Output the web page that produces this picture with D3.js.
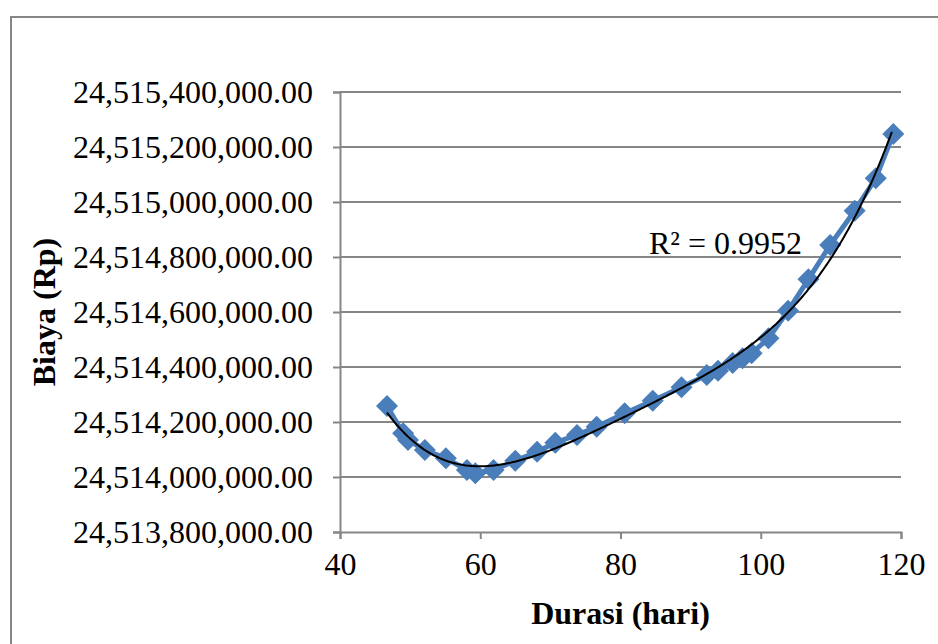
<!DOCTYPE html>
<html>
<head>
<meta charset="utf-8">
<script src="https://cdn.jsdelivr.net/npm/d3@7"></script>
<style>
  body { margin: 0; background: #fff; }
  text { font-family: "Liberation Serif", "Times New Roman", serif; fill: #000; }
</style>
</head>
<body>
<svg width="938" height="644"></svg>
<script>
// Durasi (hari) vs Biaya (Rp)
const durasi = [46.7, 49.0, 49.7, 52.1, 55.1, 58.1, 59.3, 61.9, 65.0, 68.1, 70.7, 73.8,
  76.6, 80.6, 84.6, 88.7, 92.3, 93.9, 96.0, 97.4, 98.7, 101.1, 103.9, 106.8, 109.9,
  113.4, 116.4, 118.9];
const biaya = [24514258200, 24514158900, 24514134500, 24514098200, 24514068000,
  24514025500, 24514013500, 24514025500, 24514059300, 24514092000, 24514124700,
  24514152700, 24514182900, 24514231600, 24514277500, 24514326200, 24514370900,
  24514386500, 24514414500, 24514432000, 24514449800, 24514504400, 24514604700,
  24514718900, 24514843600, 24514968400, 24515086200, 24515247300];
const xTicks = [40, 60, 80, 100, 120];
const yTicks = d3.range(24513800000, 24515400001, 200000);
const r2Label = "R² = 0.9952";

const svg = d3.select("svg");
const margin = { left: 340, right: 37, top: 92, bottom: 112 };
const width = 938, height = 644;
const fs = 32;

const x = d3.scaleLinear().domain([40, 120]).range([margin.left, width - margin.right]);
const y = d3.scaleLinear().domain([24513800000, 24515400000]).range([height - margin.bottom, margin.top]);

// chart border
svg.append("rect")
  .attr("x", 11).attr("y", 17)
  .attr("width", 940).attr("height", 640)
  .attr("fill", "none").attr("stroke", "#868686").attr("stroke-width", 2);

// gridlines
svg.append("g")
  .selectAll("line")
  .data(yTicks.slice(1))
  .join("line")
  .attr("x1", x(40)).attr("x2", x(120))
  .attr("y1", d => y(d)).attr("y2", d => y(d))
  .attr("stroke", "#868686").attr("stroke-width", 2);

// axes
const fmt = d3.format(",.2f");
const yAxis = svg.append("g")
  .attr("transform", `translate(${x(40)},0)`)
  .call(d3.axisLeft(y).tickValues(yTicks).tickFormat(fmt).tickSize(7).tickPadding(20));
const xAxis = svg.append("g")
  .attr("transform", `translate(0,${y.range()[0]})`)
  .call(d3.axisBottom(x).tickValues(xTicks).tickSize(7).tickPadding(13));
[xAxis, yAxis].forEach(g => {
  g.select(".domain").attr("stroke", "#868686").attr("stroke-width", 2);
  g.selectAll(".tick line").attr("stroke", "#868686").attr("stroke-width", 2);
  g.selectAll(".tick text")
    .attr("font-family", "Liberation Serif, serif")
    .attr("font-size", fs).attr("fill", "#000");
});

// data line + markers
const pts = durasi.map((d, i) => [d, biaya[i]]);
svg.append("path")
  .datum(pts)
  .attr("fill", "none")
  .attr("stroke", "#4a7ebb")
  .attr("stroke-width", 5)
  .attr("stroke-linejoin", "round")
  .attr("d", d3.line().x(d => x(d[0])).y(d => y(d[1])));

svg.append("g")
  .selectAll("path")
  .data(pts)
  .join("path")
  .attr("transform", d => `translate(${x(d[0])},${y(d[1])})`)
  .attr("d", "M0,-11L11,0L0,11L-11,0Z")
  .attr("fill", "#4a7ebb");

// polynomial trendline (least squares)
function polyFit(xs, ys, order) {
  const n = order + 1;
  const A = Array.from({ length: n }, () => new Array(n + 1).fill(0));
  xs.forEach((xv, k) => {
    for (let i = 0; i < n; i++) {
      for (let j = 0; j < n; j++) A[i][j] += Math.pow(xv, i + j);
      A[i][n] += ys[k] * Math.pow(xv, i);
    }
  });
  for (let i = 0; i < n; i++) {
    let p = i;
    for (let r = i + 1; r < n; r++) if (Math.abs(A[r][i]) > Math.abs(A[p][i])) p = r;
    [A[i], A[p]] = [A[p], A[i]];
    for (let r = 0; r < n; r++) {
      if (r === i) continue;
      const f = A[r][i] / A[i][i];
      for (let c = i; c <= n; c++) A[r][c] -= f * A[i][c];
    }
  }
  return A.map((row, i) => row[n] / row[i]);
}
const base = 24513800000;
const xs = durasi.map(d => (d - 80) / 40);
const ys = biaya.map(v => (v - base) / 1e6);
const coef = polyFit(xs, ys, 4);
const evalPoly = t => coef.reduce((s, c, i) => s + c * Math.pow(t, i), 0);
const trend = d3.range(durasi[0], durasi[durasi.length - 1] + 0.01, 0.25)
  .map(d => [d, base + evalPoly((d - 80) / 40) * 1e6]);
svg.append("path")
  .datum(trend)
  .attr("fill", "none")
  .attr("stroke", "#000")
  .attr("stroke-width", 2)
  .attr("d", d3.line().x(d => x(d[0])).y(d => y(d[1])));

svg.append("text")
  .attr("x", 802).attr("y", 254)
  .attr("text-anchor", "end")
  .attr("font-size", fs)
  .text(r2Label);

// axis titles
svg.append("text")
  .attr("x", (x(40) + x(120)) / 2).attr("y", 624)
  .attr("text-anchor", "middle")
  .attr("font-size", fs).attr("font-weight", "bold")
  .text("Durasi (hari)");

svg.append("text")
  .attr("transform", `translate(55,${(y.range()[0] + y.range()[1]) / 2}) rotate(-90)`)
  .attr("text-anchor", "middle")
  .attr("font-size", fs).attr("font-weight", "bold")
  .text("Biaya (Rp)");
</script>
</body>
</html>
